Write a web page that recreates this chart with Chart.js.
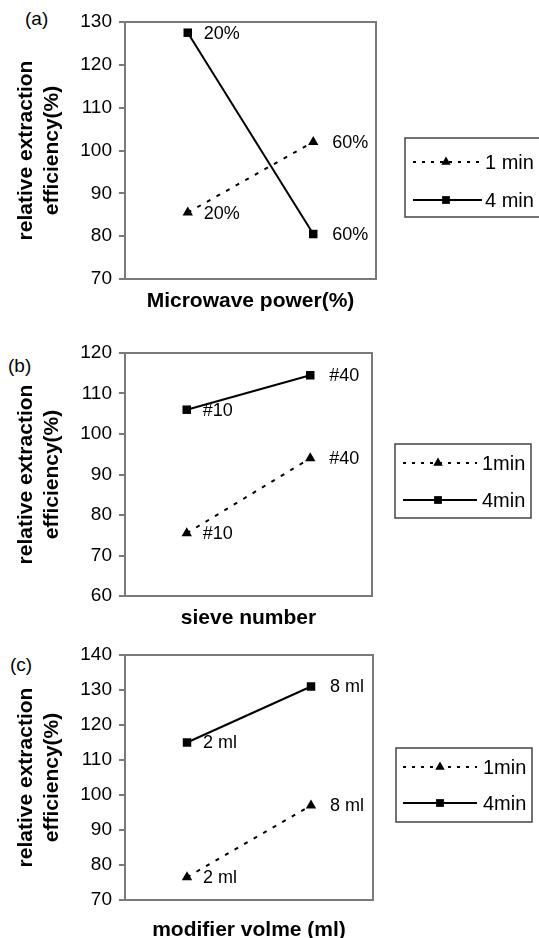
<!DOCTYPE html>
<html>
<head>
<meta charset="utf-8">
<script src="https://cdn.jsdelivr.net/npm/chart.js@4.4.1/dist/chart.umd.min.js"></script>
<style>
  html, body { margin: 0; padding: 0; background: #fff; overflow: hidden; }
  #page { position: relative; width: 539px; height: 938px; }
  .panel { position: absolute; left: 0; }
  .tag { position: absolute; font: 19px 'Liberation Sans', Arial, sans-serif; color: #000; }
</style>
</head>
<body>
<div id="page">
  <div class="tag" style="left:25px;top:8px">(a)</div>
  <div class="tag" style="left:8px;top:355px">(b)</div>
  <div class="tag" style="left:10px;top:654px">(c)</div>
  <canvas class="panel" id="chartA" width="539" height="320" style="top:0px"></canvas>
  <canvas class="panel" id="chartB" width="539" height="305" style="top:331px"></canvas>
  <canvas class="panel" id="chartC" width="539" height="320" style="top:633px"></canvas>
</div>
<script>
// panel (a): microwave power
const powerLevels = ['20%', '60%'];
const power1min = [85.5, 102];
const power4min = [127.5, 80.5];

// panel (b): sieve number
const sieveNumbers = ['#10', '#40'];
const sieve1min = [75.5, 94];
const sieve4min = [106, 114.5];

// panel (c): modifier volume
const modifierVolumes = ['2 ml', '8 ml'];
const modifier1min = [76.5, 97];
const modifier4min = [115, 131];

const FONT = "'Liberation Sans', Arial, sans-serif";
const FRAME = '#7a7a7a';

// grey box around the plot area
const framePlugin = {
    id: 'frame',
    beforeDatasetsDraw(chart) {
        const { ctx, chartArea: a } = chart;
        ctx.save();
        ctx.strokeStyle = FRAME;
        ctx.lineWidth = 2;
        ctx.strokeRect(a.left, a.top, a.right - a.left, a.bottom - a.top);
        ctx.restore();
    }
};

// category name written next to each point
const pointLabels = {
    id: 'pointLabels',
    afterDatasetsDraw(chart) {
        const { ctx } = chart;
        const labels = chart.data.labels;
        ctx.save();
        ctx.font = '18px ' + FONT;
        ctx.fillStyle = '#000';
        ctx.textBaseline = 'middle';
        chart.data.datasets.forEach((ds, i) => {
            chart.getDatasetMeta(i).data.forEach((pt, j) => {
                const dx = j === 0 ? 16 : 19;
                ctx.fillText(labels[j], pt.x + dx, pt.y + 1);
            });
        });
        ctx.restore();
    }
};

// boxed legend to the right of the plot
const boxLegend = {
    id: 'boxLegend',
    afterDraw(chart, args, opts) {
        const { ctx } = chart;
        ctx.save();
        ctx.strokeStyle = '#444';
        ctx.lineWidth = 1.5;
        ctx.strokeRect(opts.x, opts.y, opts.w, opts.h);
        chart.data.datasets.forEach((ds, i) => {
            const y = opts.rows[i];
            ctx.strokeStyle = '#000';
            ctx.lineWidth = 2;
            ctx.setLineDash(ds.borderDash ? [3, 6] : []);
            ctx.beginPath();
            ctx.moveTo(opts.lineFrom, y);
            ctx.lineTo(opts.lineTo, y);
            ctx.stroke();
            ctx.setLineDash([]);
            ctx.fillStyle = '#000';
            Chart.helpers.drawPoint(ctx, {
                pointStyle: ds.pointStyle,
                radius: ds.pointRadius - 0.5,
                rotation: 0,
                borderWidth: 0
            }, opts.marker, y);
            ctx.font = '20px ' + FONT;
            ctx.textBaseline = 'middle';
            ctx.fillText(ds.label, opts.textX, y + 1);
        });
        ctx.restore();
    }
};

function makePanel(id, cfg) {
    const canvas = document.getElementById(id);
    const H = canvas.height;
    return new Chart(canvas, {
        type: 'line',
        data: {
            labels: cfg.labels,
            datasets: [
                {
                    label: cfg.names[0],
                    data: cfg.series1,
                    borderColor: '#000',
                    backgroundColor: '#000',
                    borderWidth: 2,
                    borderDash: [4, 7],
                    pointStyle: 'triangle',
                    pointRadius: 6,
                    pointBorderWidth: 0
                },
                {
                    label: cfg.names[1],
                    data: cfg.series2,
                    borderColor: '#000',
                    backgroundColor: '#000',
                    borderWidth: 2,
                    pointStyle: 'rect',
                    pointRadius: 6,
                    pointBorderWidth: 0
                }
            ]
        },
        options: {
            responsive: false,
            animation: false,
            devicePixelRatio: 1,
            layout: { padding: { top: 22, left: 0, right: 539 - cfg.areaRight, bottom: 0 } },
            plugins: {
                legend: { display: false },
                tooltip: { enabled: false },
                boxLegend: cfg.legend
            },
            scales: {
                x: {
                    type: 'category',
                    offset: true,
                    grid: { display: false },
                    border: { display: false },
                    ticks: { display: false },
                    title: {
                        display: true,
                        text: cfg.xTitle,
                        color: '#000',
                        font: { family: FONT, size: 21, weight: 'bold', lineHeight: 1.2 },
                        padding: { top: 0, bottom: cfg.titlePad }
                    },
                    afterFit: s => { s.height = H - cfg.areaBottom; }
                },
                y: {
                    min: cfg.yMin,
                    max: cfg.yMax,
                    ticks: {
                        stepSize: 10,
                        color: '#000',
                        padding: 7,
                        font: { family: FONT, size: 19 }
                    },
                    grid: {
                        drawOnChartArea: false,
                        drawTicks: true,
                        tickLength: 6,
                        color: FRAME,
                        lineWidth: 2
                    },
                    border: { display: false },
                    title: {
                        display: true,
                        text: ['relative extraction', 'efficiency(%)'],
                        color: '#000',
                        font: { family: FONT, size: 21, weight: 'bold', lineHeight: 1.2 },
                        padding: { top: 14, bottom: 0 }
                    },
                    afterFit: s => { s.width = 125; }
                }
            }
        },
        plugins: [framePlugin, pointLabels, boxLegend]
    });
}

makePanel('chartA', {
    labels: powerLevels,
    names: ['1 min', '4 min'],
    series1: power1min,
    series2: power4min,
    yMin: 70, yMax: 130,
    xTitle: 'Microwave power(%)',
    areaRight: 376, areaBottom: 279, titlePad: 6,
    legend: { x: 405, y: 138, w: 140, h: 79, rows: [162, 200], lineFrom: 413, lineTo: 482, marker: 446, textX: 485 }
});

makePanel('chartB', {
    labels: sieveNumbers,
    names: ['1min', '4min'],
    series1: sieve1min,
    series2: sieve4min,
    yMin: 60, yMax: 120,
    xTitle: 'sieve number',
    areaRight: 372, areaBottom: 265, titlePad: 5,
    legend: { x: 395, y: 113, w: 136, h: 74, rows: [132, 169], lineFrom: 403, lineTo: 477, marker: 438, textX: 482 }
});

makePanel('chartC', {
    labels: modifierVolumes,
    names: ['1min', '4min'],
    series1: modifier1min,
    series2: modifier4min,
    yMin: 70, yMax: 140,
    xTitle: 'modifier volme (ml)',
    areaRight: 373, areaBottom: 267, titlePad: 10,
    legend: { x: 396, y: 115, w: 136, h: 74, rows: [134, 170], lineFrom: 403, lineTo: 477, marker: 440, textX: 483 }
});
</script>
</body>
</html>
